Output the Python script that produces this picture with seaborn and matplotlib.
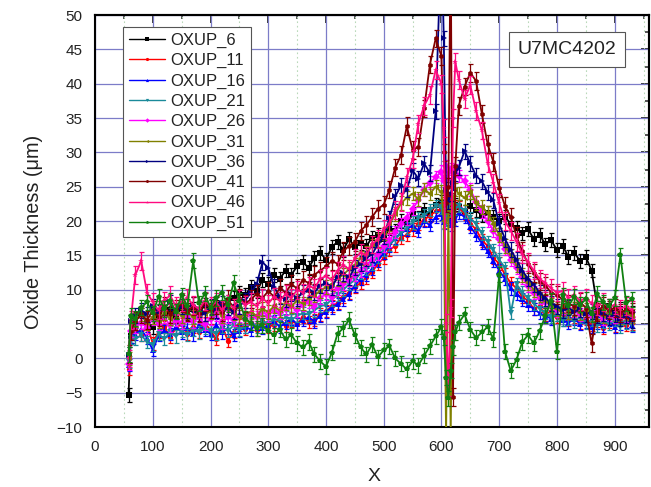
import matplotlib
matplotlib.use("Agg")
import matplotlib.pyplot as plt
import seaborn as sns
import numpy as np
from matplotlib.ticker import MultipleLocator

# ---------------- data ----------------
X = [58, 62,
     70, 80, 90, 100, 110, 120, 130, 140, 150, 160,
     170, 180, 190, 200, 210, 220, 230, 240, 250, 260,
     270, 280, 290, 300, 310, 320, 330, 340, 350, 360,
     370, 380, 390, 400, 410, 420, 430, 440, 450, 460,
     470, 480, 490, 500, 510, 520, 530, 540, 550, 560,
     570, 580, 590,
     600, 604, 608, 612, 616, 620, 624,
     630, 640, 650, 660, 670, 680, 690, 700, 710, 720,
     730, 740, 750, 760, 770, 780, 790, 800, 810, 820,
     830, 840, 850, 860, 870, 880, 890, 900, 910, 920,
     930]

OXUP_6 = [-5.3, 3.2,
          5.6, 6.4, 5.2, 4.6, 6.8, 5.9, 7.0, 6.2, 7.4, 6.6,
          7.2, 6.5, 7.8, 7.0, 8.0, 7.4, 8.3, 8.8, 9.6, 9.2,
          10.4, 9.8, 11.4, 10.8, 12.2, 11.6, 12.8, 12.2, 13.4, 14.0,
          13.2, 14.6, 15.4, 14.4, 16.2, 17.0, 15.8, 17.4, 16.2, 16.8,
          16.4, 17.6, 18.0, 17.4, 19.0, 18.6, 20.0, 19.6, 21.0, 20.4,
          21.6, 21.0, 22.4,
          22.8, 21.8, 22.2, 21.2, 20.8, 21.8, 22.4,
          22.0, 21.4, 22.2, 21.6, 20.8, 21.2, 20.6, 20.0, 20.6, 19.6,
          19.0, 18.2, 18.8, 17.4, 18.0, 16.6, 17.2, 15.8, 16.4, 14.8,
          15.4, 14.2, 14.8, 12.8, 7.4, 6.8, 7.6, 6.6, 7.2, 6.4,
          6.6]

OXUP_11 = [-1.5, 3.8,
           4.2, 3.4, 4.8, 2.2, 3.9, 4.6, 3.1, 4.4, 5.0, 3.6,
           4.6, 3.9, 5.2, 4.1, 2.8, 4.7, 2.6, 3.9, 4.9, 4.3,
           5.1, 4.2, 5.4, 4.6, 4.9, 5.8, 4.7, 5.5, 5.0, 6.0,
           5.3, 5.6, 6.4, 6.9, 7.6, 8.1, 8.9, 9.6, 10.4, 11.0,
           11.8, 12.6, 13.8, 14.6, 15.8, 16.4, 17.6, 18.0, 18.8, 19.6,
           20.2, 20.8, 21.4,
           21.8, 22.6, 20.6, 21.9, 23.2, 20.8, 22.2,
           22.0, 21.0, 19.6, 18.8, 17.2, 16.4, 14.6, 13.8, 12.2, 11.0,
           10.2, 9.0, 8.4, 7.2, 7.6, 6.4, 6.9, 6.0, 6.4, 5.6,
           6.0, 5.2, 5.8, 4.9, 5.5, 4.4, 5.3, 4.8, 5.6, 4.9,
           5.1]

OXUP_16 = [-1.0, 3.2,
           3.6, 4.2, 3.0, 1.2, 3.4, 4.0, 3.6, 4.6, 3.8, 4.4,
           3.5, 4.8, 4.2, 3.6, 4.9, 3.8, 4.4, 3.4, 4.0, 4.6,
           4.2, 5.0, 4.4, 4.8, 5.4, 4.6, 5.2, 5.8, 5.0, 5.6,
           6.0, 5.4, 6.2, 6.8, 7.4, 7.9, 8.6, 9.4, 10.6, 11.6,
           12.2, 13.0, 14.2, 15.4, 16.4, 17.6, 18.2, 18.8, 19.4, 18.6,
           20.0, 19.4, 20.6,
           21.0, 19.8, 21.6, 20.4, 19.4, 21.2, 20.2,
           21.2, 20.6, 19.2, 18.0, 16.8, 15.6, 14.2, 12.8, 11.6, 10.2,
           9.4, 8.6, 7.8, 7.2, 6.6, 6.2, 5.8, 6.4, 5.6, 5.2,
           5.8, 5.0, 5.4, 4.6, 5.2, 4.8, 5.6, 4.6, 5.0, 5.4,
           4.8]

OXUP_21 = [-0.5, 3.0,
           2.8, 3.4, 2.4, 2.0, 3.6, 2.8, 3.8, 3.2, 4.0, 3.4,
           4.2, 3.8, 4.4, 4.0, 3.6, 4.6, 4.0, 4.8, 4.2, 4.6,
           5.0, 4.6, 5.4, 5.0, 5.8, 5.4, 6.0, 5.6, 6.2, 6.6,
           6.4, 7.0, 7.6, 7.8, 8.6, 9.2, 10.0, 10.8, 11.4, 12.4,
           13.0, 13.8, 14.8, 15.8, 16.6, 17.4, 18.2, 19.0, 19.8, 20.4,
           20.8, 21.6, 22.2,
           22.0, 21.0, 20.2, 22.4, 21.6, 20.4, 21.8,
           22.2, 21.4, 20.4, 19.6, 18.2, 17.0, 15.8, 14.4, 13.2, 6.6,
           10.8, 9.6, 8.8, 8.0, 7.2, 6.6, 6.0, 6.4, 5.6, 5.8,
           5.4, 6.0, 5.2, 5.6, 4.8, 5.4, 5.0, 5.6, 4.6, 5.2,
           4.9]

OXUP_26 = [-0.8, 4.0,
           4.6, 5.2, 4.4, 5.8, 5.0, 6.0, 4.8, 5.6, 5.2, 6.2,
           5.4, 6.0, 5.0, 5.8, 6.4, 5.2, 6.0, 5.6, 6.2, 5.8,
           6.4, 6.0, 6.8, 6.2, 7.0, 6.6, 7.2, 7.6, 7.0, 7.8,
           8.2, 7.6, 8.8, 9.4, 9.0, 10.2, 10.8, 11.4, 12.2, 12.8,
           13.6, 14.4, 15.2, 16.4, 17.2, 18.4, 19.6, 20.4, 21.8, 23.0,
           24.6, 25.6, 26.4,
           27.2, 25.8, 28.0, 26.2, 27.6, 25.6, 27.4,
           26.6, 25.8, 24.6, 22.8, 21.4, 20.0, 18.6, 17.4, 16.0, 14.4,
           13.2, 11.8, 10.6, 9.6, 8.8, 8.2, 7.6, 7.0, 7.4, 6.6,
           7.0, 6.4, 6.8, 6.2, 6.6, 5.8, 6.4, 6.0, 6.6, 6.2,
           6.0]

OXUP_31 = [0.0, 5.0,
           5.6, 6.4, 5.2, 6.0, 5.4, 6.6, 5.8, 7.0, 6.2, 6.8,
           6.0, 7.2, 6.4, 6.8, 7.4, 6.2, 8.0, 6.6, 6.0, 6.4,
           6.8, 6.2, 7.2, 6.8, 7.6, 7.0, 8.0, 7.6, 8.4, 8.0,
           8.8, 9.2, 9.8, 10.4, 10.8, 11.6, 12.2, 13.0, 13.6, 14.6,
           15.4, 16.4, 17.2, 18.2, 19.6, 21.0, 22.6, 23.4, 24.0, 23.2,
           24.6, 24.0, 25.0,
           24.2, 20.0, -11.5, 21.6, -11.5, 22.8, 24.6,
           24.0, 23.4, 24.2, 22.6, 22.0, 21.2, 19.6, 18.0, 16.4, 15.0,
           13.6, 12.2, 11.0, 10.0, 9.2, 8.4, 7.8, 7.2, 7.6, 6.8,
           7.2, 6.6, 7.0, 6.4, 6.8, 6.2, 6.8, 6.4, 6.0, 6.6,
           6.2]

OXUP_36 = [0.5, 5.4,
           6.2, 7.0, 6.4, 7.6, 6.8, 7.4, 8.2, 6.8, 7.6, 7.0,
           7.8, 7.2, 6.6, 7.6, 7.0, 8.0, 7.4, 6.8, 7.6, 8.4,
           9.6, 10.8, 14.0, 13.2, 10.4, 9.0, 8.6, 9.4, 8.8, 9.6,
           10.0, 9.6, 10.6, 11.0, 10.4, 11.8, 12.4, 11.8, 13.2, 13.8,
           14.6, 15.2, 16.6, 17.8, 20.4, 23.6, 25.2, 24.6, 27.4, 26.2,
           28.4, 27.0, 36.0,
           62.0, 46.6, 24.6, 22.8, 24.0, 25.6, 27.0,
           27.8, 30.2, 28.4, 26.6, 25.8, 24.2, 23.0, 19.6, 17.4, 15.8,
           14.4, 12.8, 11.6, 10.8, 9.6, 8.8, 8.0, 7.6, 7.0, 7.4,
           6.8, 7.2, 6.4, 6.8, 6.2, 6.6, 6.0, 6.4, 5.8, 6.2,
           5.6]

OXUP_41 = [0.6, 4.0,
           5.4, 6.4, 5.6, 7.0, 6.0, 7.6, 6.4, 7.2, 8.0, 6.8,
           7.6, 6.6, 8.2, 7.2, 7.8, 6.8, 8.6, 7.4, 8.8, 8.0,
           8.6, 9.4, 8.8, 9.8, 9.0, 10.2, 9.6, 10.8, 10.2, 11.4,
           11.0, 12.2, 12.8, 13.4, 14.2, 13.8, 15.6, 16.4, 17.0, 18.6,
           19.4, 20.6, 21.8, 22.4, 24.6, 27.8, 29.6, 33.8, 30.4, 30.8,
           36.4, 42.8, 46.6,
           44.0, 30.0, 22.6, 25.0, 62.0, -5.6, 28.0,
           36.8, 39.6, 41.6, 40.4, 35.6, 31.2, 28.6, 24.8, 22.2, 20.6,
           17.8, 15.6, 13.8, 12.4, 11.2, 10.6, 9.6, 9.2, 8.6, 8.0,
           7.6, 8.2, 7.4, 2.2, 6.8, 7.6, 7.0, 7.4, 6.6, 7.2,
           6.8]

OXUP_46 = [0.0, 5.6,
           12.2, 14.2, 9.6, 8.2, 7.0, 8.4, 9.2, 7.6, 8.2, 8.8,
           7.8, 7.2, 8.4, 7.6, 8.2, 7.0, 8.0, 7.4, 8.6, 7.8,
           8.2, 7.6, 8.8, 8.0, 9.0, 8.4, 9.4, 8.8, 10.0, 9.6,
           10.6, 10.2, 11.6, 12.0, 11.4, 12.8, 13.6, 13.0, 14.6, 15.4,
           15.0, 16.6, 17.4, 18.8, 19.6, 21.6, 22.8, 26.4, 29.0, 34.2,
           36.8, 38.4, 42.0,
           40.0, 33.6, 5.2, -4.2, 7.4, 35.0, 43.2,
           40.6, 37.8, 39.8, 36.0, 33.2, 28.4, 25.6, 22.6, 20.0, 18.6,
           17.0, 15.2, 14.0, 12.8, 11.6, 11.0, 10.2, 9.6, 9.8, 8.8,
           9.2, 8.4, 8.8, 8.0, 7.6, 8.2, 7.4, 7.8, 7.2, 7.6,
           7.0]

OXUP_51 = [0.6, 6.2,
           5.8, 7.4, 8.2, 6.6, 9.0, 7.2, 8.4, 6.8, 9.2, 7.6,
           14.2, 8.0, 9.4, 7.4, 8.8, 9.6, 7.8, 11.0, 8.4, 5.8,
           5.2, 4.4, 4.8, 4.0, 3.4, 4.2, 2.8, 3.4, 2.2, 1.6,
           2.4, 0.6, -0.4, -1.2, 0.8, 3.6, 4.4, 5.6, 3.4, 1.6,
           0.6, 2.0, 0.2, 1.2, 1.8, 0.0, -0.8, -1.6, -0.4, -1.0,
           0.4, 1.8, 3.2,
           4.6, 3.0, -2.8, -5.8, -1.8, 1.6, 3.8,
           5.2, 6.4, 4.2, 3.0, 3.8, 4.6, 2.8, 12.2, 1.0, -1.8,
           -0.2, 2.4, 3.4, 2.2, 4.0, 6.2, 8.4, 1.0, 9.2, 7.6,
           9.0, 7.8, 8.6, 6.4, 9.4, 8.2, 7.6, 8.8, 15.0, 8.0,
           8.6]

SERIES = ["OXUP_6", "OXUP_11", "OXUP_16", "OXUP_21", "OXUP_26",
          "OXUP_31", "OXUP_36", "OXUP_41", "OXUP_46", "OXUP_51"]
VALUES = [OXUP_6, OXUP_11, OXUP_16, OXUP_21, OXUP_26,
          OXUP_31, OXUP_36, OXUP_41, OXUP_46, OXUP_51]
ERR = [1.0, 0.9, 0.9, 0.9, 0.9, 1.0, 1.1, 1.3, 1.3, 1.1]

COLORS = ["#000000", "#ff0000", "#0000ff", "#1a8a9a", "#ff00ff",
          "#808000", "#000080", "#800000", "#ff0a80", "#108010"]
MARKERS = ["s", "o", "^", "v", "D", "<", ">", "h", "*", "p"]

for name, vals in zip(SERIES, VALUES):
    assert len(vals) == len(X), (name, len(vals), len(X))

# ---------------- figure ----------------
sns.set_style("white")
plt.rcParams["font.family"] = ["Liberation Sans", "DejaVu Sans"]

fig = plt.figure(figsize=(6.51, 4.87), dpi=100)
ax = fig.add_axes([0.146, 0.123, 0.8514, 0.846])

for i, (name, vals) in enumerate(zip(SERIES, VALUES)):
    ax.errorbar(X, vals, yerr=ERR[i], fmt="none", ecolor=COLORS[i],
                elinewidth=0.9, capsize=1.8, capthick=0.9, zorder=2 + i * 0.1)
    sns.lineplot(x=X, y=vals, ax=ax, color=COLORS[i], marker=MARKERS[i],
                 markersize=3.8, markeredgewidth=0, linewidth=1.3,
                 label=name, sort=False, zorder=2.05 + i * 0.1)

ax.set_xlim(0, 960)
ax.set_ylim(-10, 50)
ax.xaxis.set_major_locator(MultipleLocator(100))
ax.xaxis.set_minor_locator(MultipleLocator(50))
ax.yaxis.set_major_locator(MultipleLocator(5))
ax.yaxis.set_minor_locator(MultipleLocator(2.5))

ax.grid(which="major", color="#7c7cc8", linewidth=0.9, linestyle="-")
ax.grid(which="minor", axis="x", color="#b9d9b9", linewidth=0.8, linestyle=(0, (1.5, 2.5)))
ax.set_axisbelow(True)

for s in ax.spines.values():
    s.set_color("black")
    s.set_linewidth(1.5)

ax.tick_params(axis="both", which="major", direction="out", length=6, width=1.3,
               labelsize=11, labelcolor="#222222", color="black", pad=3)
ax.tick_params(axis="both", which="minor", direction="out", length=3, width=1.1, color="black")

top = ax.secondary_xaxis("top")
top.xaxis.set_major_locator(MultipleLocator(100))
top.xaxis.set_minor_locator(MultipleLocator(50))
top.tick_params(which="major", direction="in", length=6, width=1.3, labeltop=False)
top.tick_params(which="minor", direction="in", length=3, width=1.1)
top.spines["top"].set_linewidth(1.5)

right = ax.secondary_yaxis("right")
right.yaxis.set_major_locator(MultipleLocator(5))
right.yaxis.set_minor_locator(MultipleLocator(2.5))
right.tick_params(which="major", direction="in", length=6, width=1.3, labelright=False)
right.tick_params(which="minor", direction="in", length=3, width=1.1)
right.spines["right"].set_linewidth(1.5)

ax.set_xlabel("X", fontsize=14, color="#222222")
ax.set_ylabel("Oxide Thickness (μm)", fontsize=14.3, color="#222222")
ax.xaxis.set_label_coords(0.503, -0.1)
ax.yaxis.set_label_coords(-0.094, 0.473)

leg = ax.legend(loc="upper left", bbox_to_anchor=(0.05, 0.971), borderaxespad=0,
                fontsize=12, frameon=True, fancybox=False, framealpha=1,
                edgecolor="#555555", handlelength=2.2, labelspacing=0.31,
                borderpad=0.35, handletextpad=0.3, markerscale=0.6)
leg.get_frame().set_linewidth(0.8)
for t in leg.get_texts():
    t.set_color("#222222")
for h in leg.get_lines():
    h.set_linewidth(1.0)
leg.set_zorder(10)

ax.text(0.852, 0.917, "U7MC4202", transform=ax.transAxes, ha="center", va="center",
        fontsize=14, color="#222222", zorder=11,
        bbox=dict(boxstyle="square,pad=0.45", fc="white", ec="#555555", lw=0.8))

fig.savefig("out.png", dpi=100)
